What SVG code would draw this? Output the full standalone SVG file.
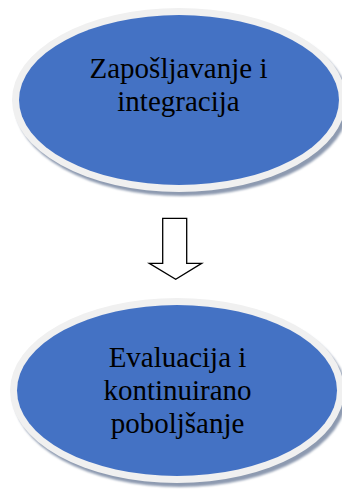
<svg xmlns="http://www.w3.org/2000/svg" width="342" height="490" viewBox="0 0 342 490">
<defs>
<filter id="sh" x="-10%" y="-10%" width="130%" height="140%">
<feGaussianBlur stdDeviation="1.2"/>
</filter>
</defs>
<style>
.ring{fill:#f0f0f0}
.shadow{fill:#8d9ab0}
.body{fill:#4472c4}
.lbl{font-family:"Liberation Serif","Times New Roman",serif;font-size:29px;fill:#000;text-anchor:middle}
.arrow{fill:#fff;stroke:#000;stroke-width:1.3;stroke-linejoin:miter}
</style>
<rect width="342" height="490" fill="#fff"/>
<g id="node-zaposljavanje">
<ellipse class="shadow" cx="182" cy="104" rx="167" ry="92" filter="url(#sh)"/>
<ellipse class="ring" cx="179" cy="100" rx="167" ry="92"/>
<ellipse class="body" cx="179" cy="100" rx="160" ry="85"/>
<text class="lbl" x="178.5" y="78">Zapošljavanje i</text>
<text class="lbl" x="178.5" y="111">integracija</text>
</g>
<g id="connectors">
<path class="arrow" d="M162.7,218.3 H186.7 V263.3 H201.7 L175.7,279.3 L149.3,263.3 H162.7 Z"/>
</g>
<g id="node-evaluacija">
<ellipse class="shadow" cx="180" cy="394.5" rx="167" ry="92.5" filter="url(#sh)"/>
<ellipse class="ring" cx="177" cy="390.5" rx="167" ry="92.5"/>
<ellipse class="body" cx="177" cy="390.5" rx="160" ry="85.5"/>
<text class="lbl" x="177.5" y="367">Evaluacija i</text>
<text class="lbl" x="177.5" y="400">kontinuirano</text>
<text class="lbl" x="177.5" y="433">poboljšanje</text>
</g>
</svg>
